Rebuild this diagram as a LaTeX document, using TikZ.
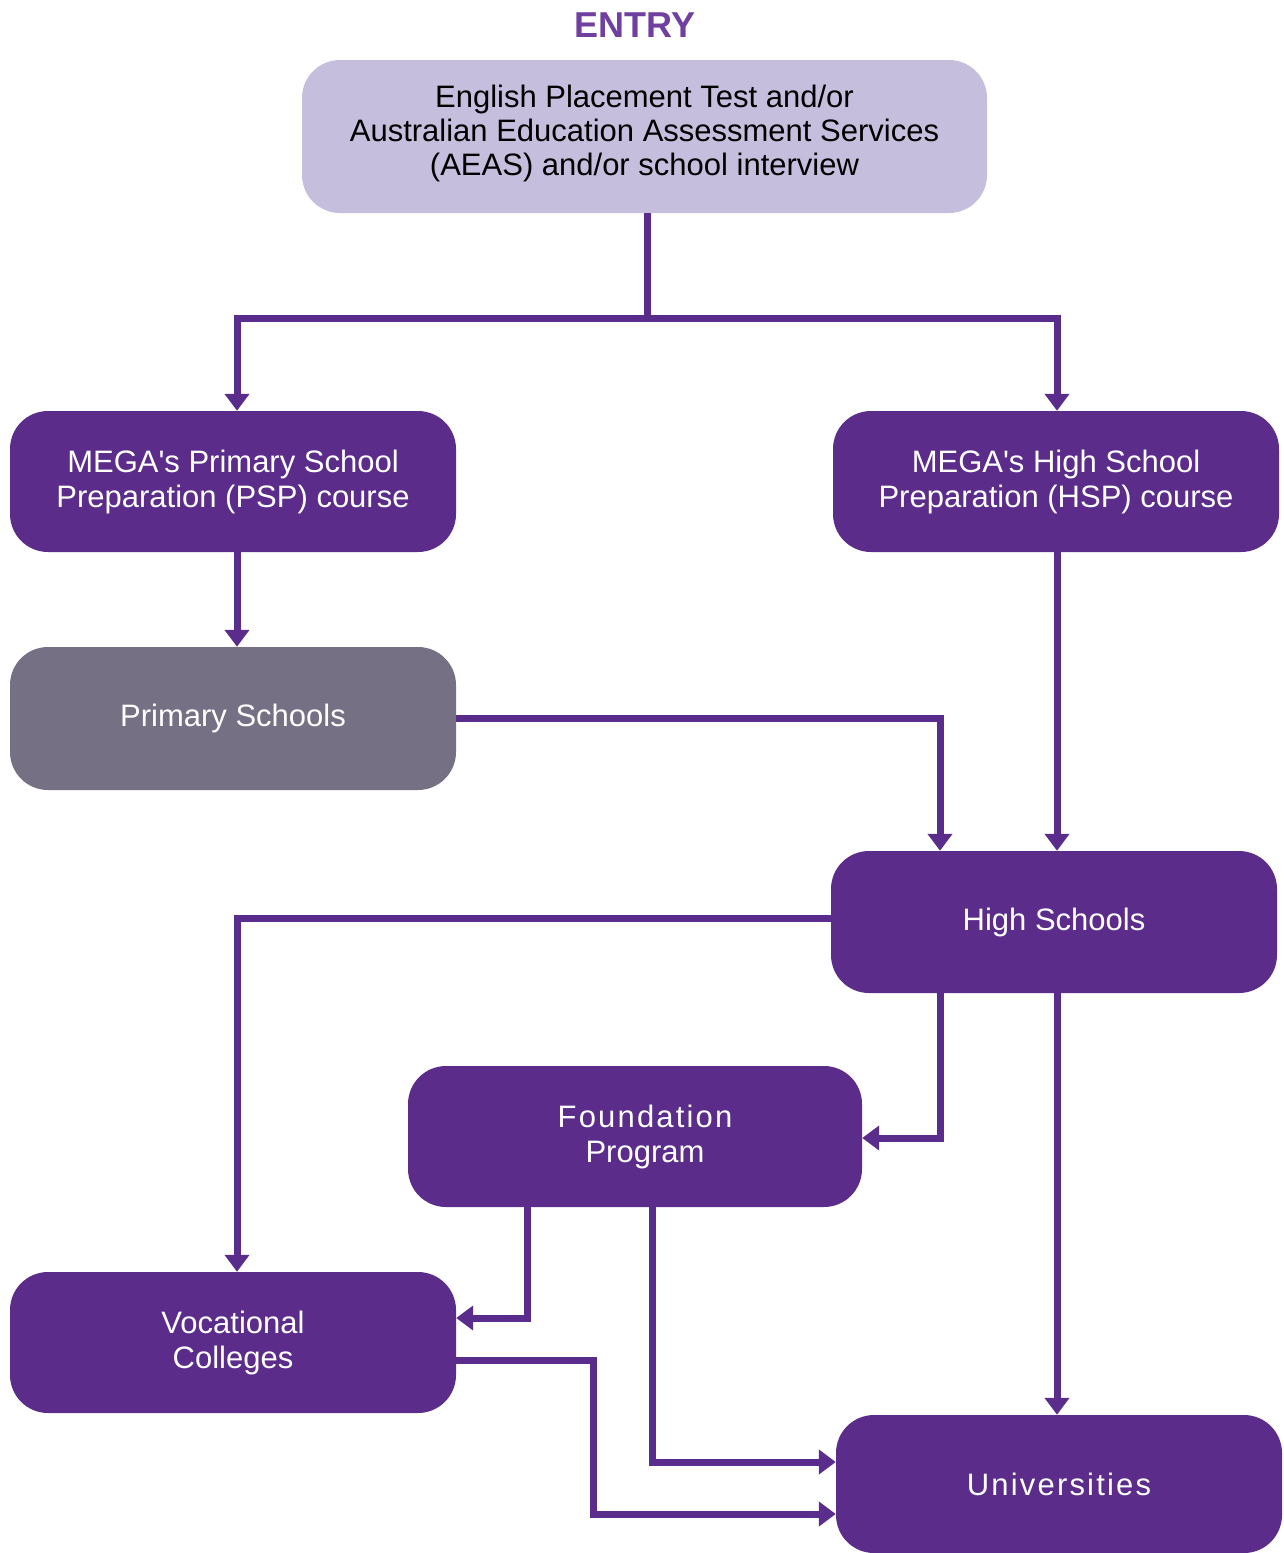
\documentclass[tikz,border=0pt]{standalone}
\usepackage{fontspec}
\newfontfamily\arialfont{Liberation Sans}
\usetikzlibrary{arrows.meta}
\definecolor{mpurple}{RGB}{91,44,138}
\definecolor{mline}{RGB}{90,45,140}
\definecolor{mlav}{RGB}{197,190,221}
\definecolor{mgrey}{RGB}{118,112,133}
\definecolor{mtitle}{RGB}{112,64,160}
\begin{document}
\begin{tikzpicture}[x=1pt,y=-1pt,
  box/.style={rounded corners=38pt, inner sep=0pt, align=center, text=white, fill=mpurple,
    minimum width=446pt, minimum height=141pt, font=\arialfont\fontsize{31}{35}\selectfont},
  conn/.style={draw=mline, line width=7pt, -{Triangle[width=24pt,length=17pt]}},
  plain/.style={draw=mline, line width=7pt}
]
\useasboundingbox (0,0) rectangle (1284,1553);
\node[text=mtitle, font=\arialfont\fontsize{36}{40}\selectfont\bfseries] (title) at (635,25) {ENTRY};
\node[box, fill=mlav, text=black, minimum width=685pt, minimum height=153pt,
  font=\arialfont\fontsize{31}{34}\selectfont] (entry) at (644.5,136.5)
  {English Placement Test and/or\\Australian Education Assessment Services\\(AEAS) and/or school interview\\[-22pt]\mbox{}};
\node[box] (psp) at (233,481.5) {MEGA's Primary School\\Preparation (PSP) course};
\node[box] (hsp) at (1056,481.5) {MEGA's High School\\Preparation (HSP) course};
\node[box, fill=mgrey, minimum height=143pt] (prim) at (233,718.5) {Primary Schools};
\node[box, minimum height=142pt] (high) at (1054,922) {High Schools};
\node[box, minimum width=454pt] (found) at (635,1136.5)
  {\hspace*{20pt}{\addfontfeature{LetterSpace=7}Foundation}\\\hspace*{20pt}Program};
\node[box] (voc) at (233,1342.5) {Vocational\\Colleges};
\node[box, minimum height=138pt] (uni) at (1059,1484) {\addfontfeature{LetterSpace=7}Universities};
\coordinate (vocbend) at (593,1437);

\draw[plain] ([xshift=2.5pt]entry.south) -- ++(0,105) coordinate (split);
\draw[conn] (split) -| ([xshift=4pt]psp.north);
\draw[conn] (split) -| ([xshift=1pt]hsp.north);
\draw[conn] ([xshift=4pt]psp.south) -- ([xshift=4pt]prim.north);
\draw[conn] (prim.east) -| ([xshift=-114pt]high.north);
\draw[conn] ([xshift=1pt]hsp.south) -- ([xshift=3pt]high.north);
\draw[conn] ([yshift=4pt]high.west) -| ([xshift=4pt]voc.north);
\draw[conn] ([xshift=-114pt]high.south) |- ([yshift=-1.5pt]found.east);
\draw[conn] ([xshift=3pt]high.south) -- ([xshift=-2pt]uni.north);
\draw[conn] ([xshift=-108pt]found.south) |- ([yshift=24.5pt]voc.east);
\draw[conn] ([xshift=17pt]found.south) |- ([yshift=22pt]uni.west);
\draw[conn] ([yshift=-17.5pt]voc.east) -| (vocbend) |- ([yshift=-30pt]uni.west);
\end{tikzpicture}
\end{document}
